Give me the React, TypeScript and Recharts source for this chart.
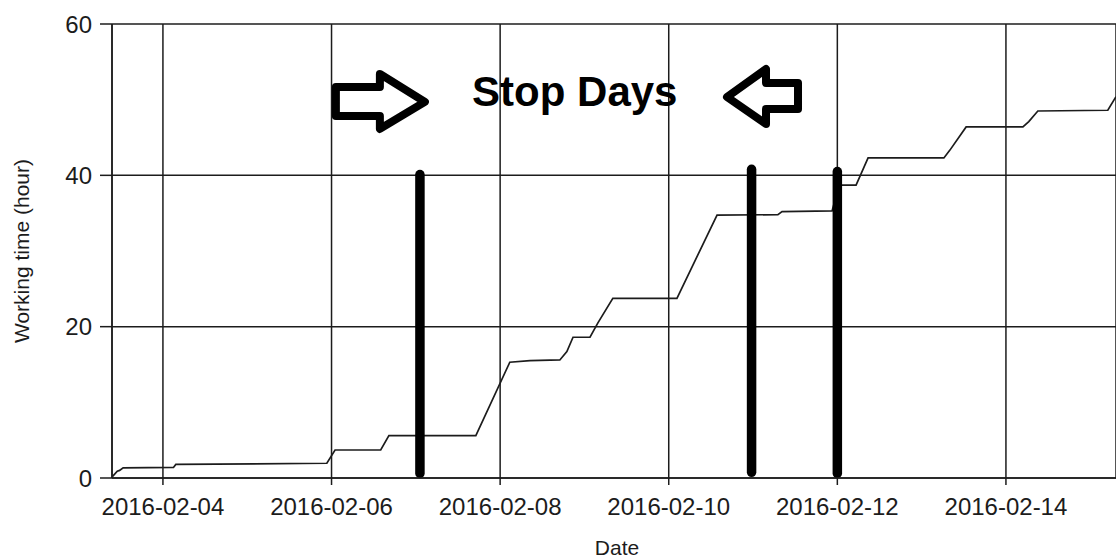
import { LineChart, Line, XAxis, YAxis, CartesianGrid, ReferenceLine, ReferenceDot } from 'recharts'

// logged working time
const times = [
  '2016-02-03T09:40', '2016-02-03T11:00', '2016-02-03T11:40', '2016-02-03T12:40',
  '2016-02-04T03:00', '2016-02-04T03:40', '2016-02-05T22:40', '2016-02-06T01:00',
  '2016-02-06T14:00', '2016-02-06T16:20', '2016-02-07T17:05', '2016-02-08T02:45',
  '2016-02-08T08:30', '2016-02-08T17:00', '2016-02-08T19:00', '2016-02-08T20:45',
  '2016-02-09T01:35', '2016-02-09T03:50', '2016-02-09T08:05', '2016-02-10T02:20',
  '2016-02-10T13:45', '2016-02-11T07:05', '2016-02-11T08:15', '2016-02-11T22:30',
  '2016-02-12T00:30', '2016-02-12T05:20', '2016-02-12T08:45', '2016-02-13T06:20',
  '2016-02-13T08:00', '2016-02-13T12:40', '2016-02-14T04:50', '2016-02-14T06:30',
  '2016-02-14T09:05', '2016-02-15T05:00', '2016-02-15T07:20'
]
const hours = [
  0.2, 0.9, 1.0, 1.35,
  1.4, 1.8, 1.95, 3.7,
  3.7, 5.6, 5.6, 15.3,
  15.5, 15.6, 16.7, 18.6,
  18.6, 20.5, 23.75, 23.75,
  34.75, 34.8, 35.2, 35.3,
  38.7, 38.7, 42.3, 42.3,
  43.3, 46.4, 46.4, 47.1,
  48.5, 48.6, 50.4
]

const domainStart = '2016-02-03T09:30'
const domainEnd = '2016-02-15T07:20'
const dateTicks = ['2016-02-04', '2016-02-06', '2016-02-08', '2016-02-10', '2016-02-12', '2016-02-14']
const hourTicks = [0, 20, 40, 60]

// hand-drawn stop day markers
const stopTimes = ['2016-02-07T01:10', '2016-02-10T23:35', '2016-02-12T00:00']
const stopBottoms = [0.6, 0.75, 0.6]
const stopTops = [40.1, 40.8, 40.5]

const labelText = 'Stop Days'
const labelAt = { t: '2016-02-08T21:15', v: 51 }
const rightArrowAt = { t: '2016-02-07T04:00', v: 49.7 }
const leftArrowAt = { t: '2016-02-10T15:10', v: 50.35 }

const toMs = (s: string) => Date.parse((s.length === 10 ? s + 'T00:00' : s) + ':00Z')
const pad = (n: number) => String(n).padStart(2, '0')
const fmtDate = (ms: number) => {
  const d = new Date(ms)
  return `${d.getUTCFullYear()}-${pad(d.getUTCMonth() + 1)}-${pad(d.getUTCDate())}`
}

const data = times.map((s, i) => ({ t: toMs(s), h: hours[i] }))

const INK = '#1c1c1c'
const FONT = '"Liberation Sans", Arial, sans-serif'

const RightArrow = ({ cx, cy }: any) => (
  <path
    d={`M${cx - 94},${cy - 15} L${cx - 50},${cy - 15} L${cx - 50},${cy - 28} L${cx - 5},${cy} L${cx - 50},${cy + 27} L${cx - 50},${cy + 14} L${cx - 94},${cy + 14} Z`}
    fill="#fff"
    stroke="#000"
    strokeWidth={8}
    strokeLinejoin="round"
  />
)

const LeftArrow = ({ cx, cy }: any) => (
  <path
    d={`M${cx + 5},${cy} L${cx + 44},${cy - 28} L${cx + 44},${cy - 14} L${cx + 76},${cy - 14} L${cx + 76},${cy + 12} L${cx + 44},${cy + 12} L${cx + 44},${cy + 27} Z`}
    fill="#fff"
    stroke="#000"
    strokeWidth={8}
    strokeLinejoin="round"
  />
)

const StopLabel = ({ cx, cy }: any) => (
  <text x={cx} y={cy + 14} textAnchor="middle" fontSize={42} fontWeight="bold" fill="#000" fontFamily={FONT}>
    {labelText}
  </text>
)

const YTitle = ({ viewBox }: any) => {
  const x = viewBox.x + 29
  const y = viewBox.y + viewBox.height / 2
  return (
    <text x={x} y={y} transform={`rotate(-90, ${x}, ${y})`} textAnchor="middle" fontSize={21} fill={INK} fontFamily={FONT}>
      Working time (hour)
    </text>
  )
}

const XTitle = ({ viewBox }: any) => (
  <text x={viewBox.x + viewBox.width / 2 + 3} y={viewBox.y + 77} textAnchor="middle" fontSize={21} fill={INK} fontFamily={FONT}>
    Date
  </text>
)

export default function App() {
  return (
    <div style={{ position: 'absolute', left: 0, top: 0, background: '#fff' }}>
      <LineChart width={1116} height={558} data={data} margin={{ top: 24, right: 0, bottom: 20, left: 0 }} style={{ fontFamily: FONT }}>
        <CartesianGrid stroke={INK} strokeWidth={1.5} />
        <XAxis
          dataKey="t"
          type="number"
          domain={[toMs(domainStart), toMs(domainEnd)]}
          ticks={dateTicks.map(toMs)}
          tickFormatter={fmtDate}
          height={60}
          tickSize={7}
          tickMargin={13}
          tick={{ fontSize: 24, fill: INK }}
          stroke={INK}
          strokeWidth={1.5}
          allowDataOverflow
          label={XTitle}
        />
        <YAxis
          type="number"
          domain={[0, 60]}
          ticks={hourTicks}
          width={112}
          tickSize={12}
          tickMargin={8}
          tick={{ fontSize: 24, fill: INK }}
          stroke={INK}
          strokeWidth={1.5}
          label={YTitle}
        />
        <Line
          type="linear"
          dataKey="h"
          stroke={INK}
          strokeWidth={1.7}
          dot={false}
          activeDot={false}
          isAnimationActive={false}
        />
        {stopTimes.map((s, i) => (
          <ReferenceLine
            key={s}
            segment={[{ x: toMs(s), y: stopBottoms[i] }, { x: toMs(s), y: stopTops[i] }]}
            stroke="#000"
            strokeWidth={9.5}
            strokeLinecap="round"
          />
        ))}
        <ReferenceDot x={toMs(rightArrowAt.t)} y={rightArrowAt.v} r={1} shape={RightArrow} />
        <ReferenceDot x={toMs(leftArrowAt.t)} y={leftArrowAt.v} r={1} shape={LeftArrow} />
        <ReferenceDot x={toMs(labelAt.t)} y={labelAt.v} r={1} shape={StopLabel} />
      </LineChart>
    </div>
  )
}
